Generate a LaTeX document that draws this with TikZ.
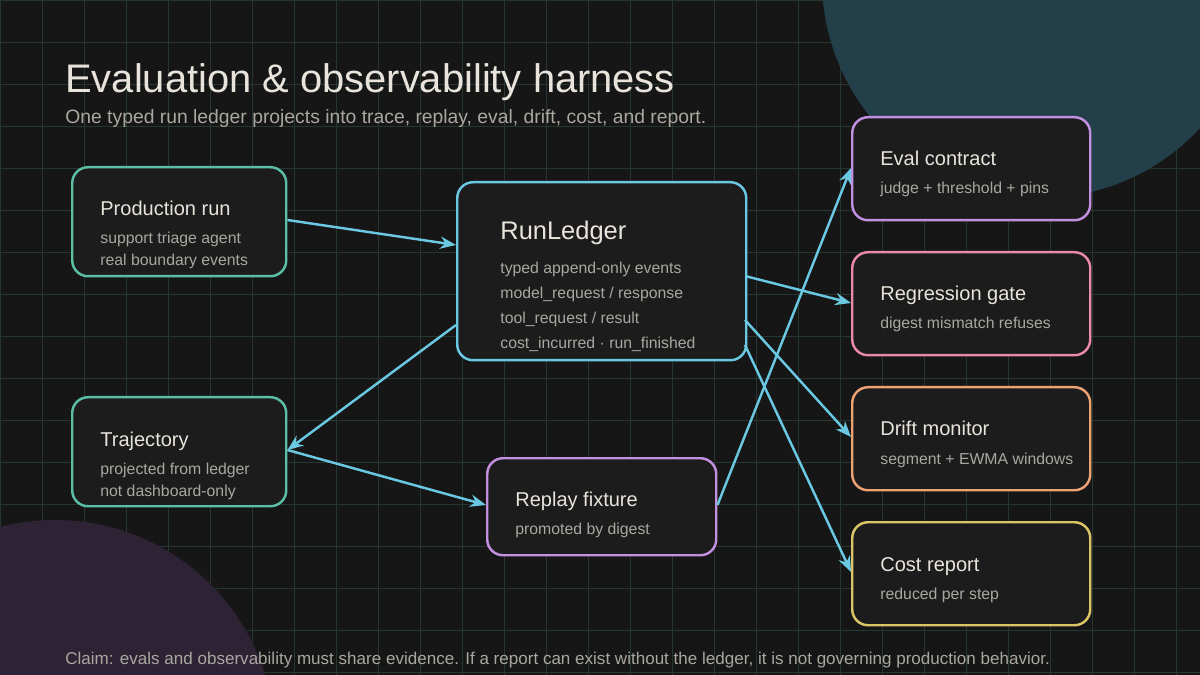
\documentclass[tikz,border=0pt]{standalone}
\usepackage{fontspec}
\setmainfont{Liberation Sans}
\usetikzlibrary{arrows.meta}
\definecolor{bg}{HTML}{161616}
\definecolor{gridc}{HTML}{263631}
\definecolor{boxbg}{HTML}{1C1C1C}
\definecolor{teal}{HTML}{5BBFA6}
\definecolor{sky}{HTML}{6AC8E2}
\definecolor{lilac}{HTML}{C38FE0}
\definecolor{rose}{HTML}{E98AA8}
\definecolor{amber}{HTML}{ECA273}
\definecolor{straw}{HTML}{DCC566}
\definecolor{ink}{HTML}{E8E4DC}
\definecolor{muted}{HTML}{A8A8A0}
\definecolor{slateblob}{HTML}{23404A}
\definecolor{plumblob}{HTML}{2E2235}
\tikzset{
  stage/.style={draw=#1, line width=1.4pt, fill=boxbg, rounded corners=9pt, anchor=north west, inner sep=0pt},
  head/.style={anchor=base west, text=ink, font=\fontsize{11.4}{13}\selectfont, inner sep=0pt},
  body/.style={anchor=base west, text=muted, font=\fontsize{9}{11}\selectfont, inner sep=0pt, align=left},
  flow/.style={sky, line width=1.4pt, -{Stealth[length=9pt,width=7pt]}}
}
\begin{document}
\begin{tikzpicture}[x=0.02cm,y=-0.02cm]
\fill[bg] (0,0) rectangle (1200,675);
\useasboundingbox (0,0) rectangle (1200,675);
\begin{scope}
\clip (0,0) rectangle (1200,675);
\foreach \g in {0,42,...,1200} \draw[gridc, line width=0.5pt] (\g,0) -- (\g,675);
\foreach \g in {0,42,...,675} \draw[gridc, line width=0.5pt] (0,\g) -- (1200,\g);
\fill[slateblob] (1040,-20) circle (218);
\fill[plumblob] (55,740) circle (220);
\end{scope}

% heading
\node[anchor=base west, text=ink, font=\fontsize{22.7}{26}\selectfont, inner sep=0pt] (title) at (65,93) {Evaluation \& observability harness};
\node[anchor=base west, text=muted, font=\fontsize{11}{13}\selectfont, inner sep=0pt] (subtitle) at (65,124) {One typed run ledger projects into trace, replay, eval, drift, cost, and report.};

% stages
\node[stage=teal, minimum width=214*0.02cm, minimum height=109*0.02cm] (prod) at (71,166) {};
\node[head] at (100,216) {Production run};
\node[body] at (100,244) {support triage agent};
\node[body] at (100,266) {real boundary events};

\node[stage=sky, minimum width=289*0.02cm, minimum height=178*0.02cm] (ledger) at (456,181) {};
\node[head, font=\fontsize{14.5}{16}\selectfont] at (500,240) {RunLedger};
\node[body] at (500,274) {typed append-only events};
\node[body] at (500,299) {model\_request / response};
\node[body] at (500,324) {tool\_request / result};
\node[body] at (500,349) {cost\_incurred · run\_finished};

\node[stage=teal, minimum width=214*0.02cm, minimum height=109*0.02cm] (traj) at (71,396) {};
\node[head] at (100,446) {Trajectory};
\node[body] at (100,474) {projected from ledger};
\node[body] at (100,496) {not dashboard-only};

\node[stage=lilac, minimum width=229*0.02cm, minimum height=97*0.02cm] (replay) at (486,457) {};
\node[head] at (515,506) {Replay fixture};
\node[body] at (515,534) {promoted by digest};

\node[stage=lilac, minimum width=238*0.02cm, minimum height=103*0.02cm] (eval) at (851,116) {};
\node[head] at (880,166) {Eval contract};
\node[body] at (880,194) {judge + threshold + pins};

\node[stage=rose, minimum width=238*0.02cm, minimum height=103*0.02cm] (gate) at (851,251) {};
\node[head] at (880,301) {Regression gate};
\node[body] at (880,329) {digest mismatch refuses};

\node[stage=amber, minimum width=238*0.02cm, minimum height=103*0.02cm] (drift) at (851,386) {};
\node[head] at (880,436) {Drift monitor};
\node[body] at (880,464) {segment + EWMA windows};

\node[stage=straw, minimum width=238*0.02cm, minimum height=103*0.02cm] (cost) at (851,521) {};
\node[head] at (880,571) {Cost report};
\node[body] at (880,599) {reduced per step};

% connectors
\coordinate (l1) at (456,245);
\coordinate (l2) at (456,325);
\coordinate (r1) at (745,276);
\coordinate (r2) at (745,320);
\coordinate (r3) at (745,345);
\draw[flow] (prod.east |- 0,220) -- (l1);
\draw[flow] (l2) -- (traj.east |- 0,450);
\draw[flow] (traj.east |- 0,450) -- (replay.west |- 0,505);
\draw[flow] (replay.east |- 0,505) -- (eval.west |- 0,168);
\draw[flow] (r1) -- (gate.west |- 0,303);
\draw[flow] (r2) -- (drift.west |- 0,437);
\draw[flow] (r3) -- (cost.west |- 0,572);

% footer
\node[anchor=base west, text=muted, font=\fontsize{9.7}{12}\selectfont, inner sep=0pt] (claim) at (65,664) {Claim: evals and observability must share evidence. If a report can exist without the ledger, it is not governing production behavior.};
\end{tikzpicture}
\end{document}
